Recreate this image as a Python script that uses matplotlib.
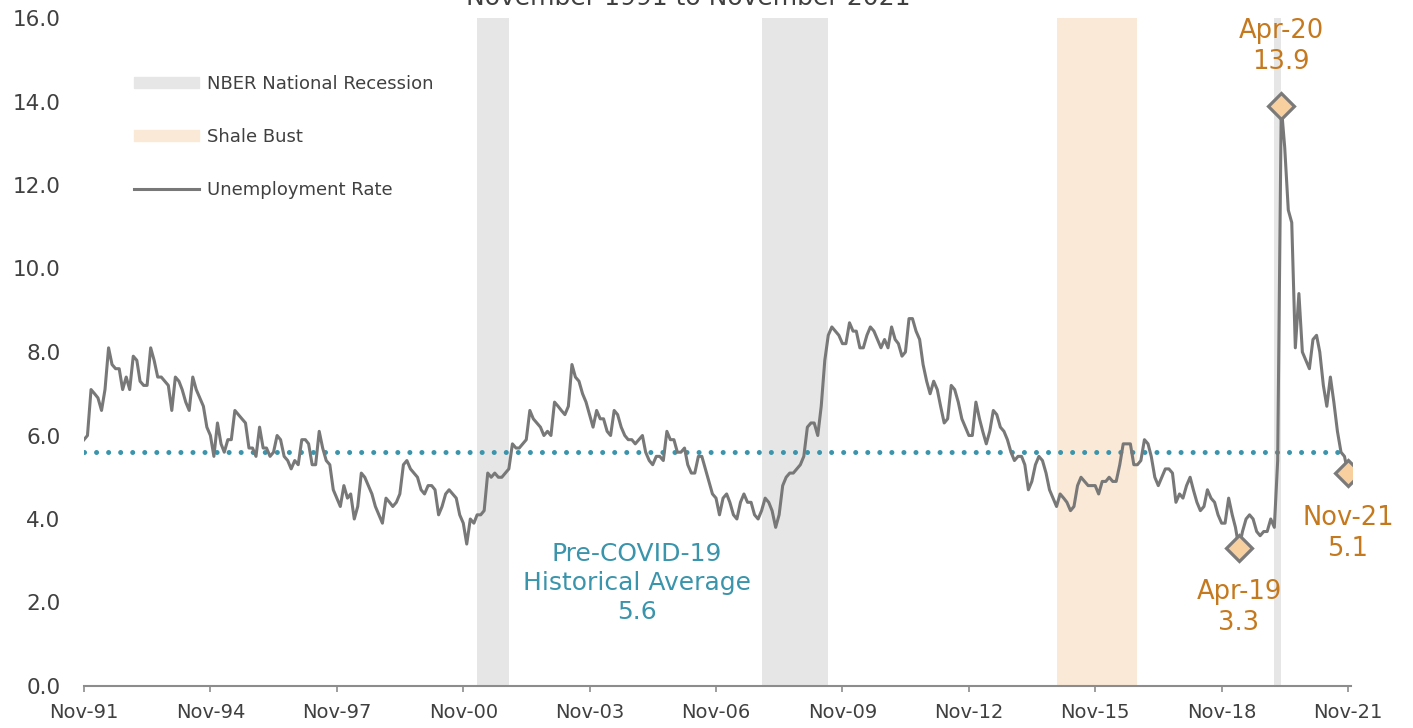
import pandas as pd
import matplotlib
matplotlib.use('Agg')
import matplotlib.pyplot as plt
from matplotlib.patches import Patch
from matplotlib.lines import Line2D

# Tasa de desempleo mensual, nov-1991 a nov-2021
fechas = pd.date_range('1991-11-01', '2021-11-01', freq='MS')
tasa = [
    5.9, 6.0, 7.1, 7.0, 6.9, 6.6, 7.1, 8.1, 7.7, 7.6, 7.6, 7.1,   # nov-91
    7.4, 7.1, 7.9, 7.8, 7.3, 7.2, 7.2, 8.1, 7.8, 7.4, 7.4, 7.3,   # nov-92
    7.2, 6.6, 7.4, 7.3, 7.1, 6.8, 6.6, 7.4, 7.1, 6.9, 6.7, 6.2,   # nov-93
    6.0, 5.5, 6.3, 5.8, 5.6, 5.9, 5.9, 6.6, 6.5, 6.4, 6.3, 5.7,   # nov-94
    5.7, 5.5, 6.2, 5.7, 5.7, 5.5, 5.6, 6.0, 5.9, 5.5, 5.4, 5.2,   # nov-95
    5.4, 5.3, 5.9, 5.9, 5.8, 5.3, 5.3, 6.1, 5.7, 5.4, 5.3, 4.7,   # nov-96
    4.5, 4.3, 4.8, 4.5, 4.6, 4.0, 4.3, 5.1, 5.0, 4.8, 4.6, 4.3,   # nov-97
    4.1, 3.9, 4.5, 4.4, 4.3, 4.4, 4.6, 5.3, 5.4, 5.2, 5.1, 5.0,   # nov-98
    4.7, 4.6, 4.8, 4.8, 4.7, 4.1, 4.3, 4.6, 4.7, 4.6, 4.5, 4.1,   # nov-99
    3.9, 3.4, 4.0, 3.9, 4.1, 4.1, 4.2, 5.1, 5.0, 5.1, 5.0, 5.0,   # nov-00
    5.1, 5.2, 5.8, 5.7, 5.7, 5.8, 5.9, 6.6, 6.4, 6.3, 6.2, 6.0,   # nov-01
    6.1, 6.0, 6.8, 6.7, 6.6, 6.5, 6.7, 7.7, 7.4, 7.3, 7.0, 6.8,   # nov-02
    6.5, 6.2, 6.6, 6.4, 6.4, 6.1, 6.0, 6.6, 6.5, 6.2, 6.0, 5.9,   # nov-03
    5.9, 5.8, 5.9, 6.0, 5.6, 5.4, 5.3, 5.5, 5.5, 5.4, 6.1, 5.9,   # nov-04
    5.9, 5.6, 5.6, 5.7, 5.3, 5.1, 5.1, 5.5, 5.5, 5.2, 4.9, 4.6,   # nov-05
    4.5, 4.1, 4.5, 4.6, 4.4, 4.1, 4.0, 4.4, 4.6, 4.4, 4.4, 4.1,   # nov-06
    4.0, 4.2, 4.5, 4.4, 4.2, 3.8, 4.1, 4.8, 5.0, 5.1, 5.1, 5.2,   # nov-07
    5.3, 5.5, 6.2, 6.3, 6.3, 6.0, 6.7, 7.8, 8.4, 8.6, 8.5, 8.4,   # nov-08
    8.2, 8.2, 8.7, 8.5, 8.5, 8.1, 8.1, 8.4, 8.6, 8.5, 8.3, 8.1,   # nov-09
    8.3, 8.1, 8.6, 8.3, 8.2, 7.9, 8.0, 8.8, 8.8, 8.5, 8.3, 7.7,   # nov-10
    7.3, 7.0, 7.3, 7.1, 6.7, 6.3, 6.4, 7.2, 7.1, 6.8, 6.4, 6.2,   # nov-11
    6.0, 6.0, 6.8, 6.4, 6.1, 5.8, 6.1, 6.6, 6.5, 6.2, 6.1, 5.9,   # nov-12
    5.6, 5.4, 5.5, 5.5, 5.3, 4.7, 4.9, 5.3, 5.5, 5.4, 5.1, 4.7,   # nov-13
    4.5, 4.3, 4.6, 4.5, 4.4, 4.2, 4.3, 4.8, 5.0, 4.9, 4.8, 4.8,   # nov-14
    4.8, 4.6, 4.9, 4.9, 5.0, 4.9, 4.9, 5.3, 5.8, 5.8, 5.8, 5.3,   # nov-15
    5.3, 5.4, 5.9, 5.8, 5.5, 5.0, 4.8, 5.0, 5.2, 5.2, 5.1, 4.4,   # nov-16
    4.6, 4.5, 4.8, 5.0, 4.7, 4.4, 4.2, 4.3, 4.7, 4.5, 4.4, 4.1,   # nov-17
    3.9, 3.9, 4.5, 4.1, 3.8, 3.3, 3.7, 4.0, 4.1, 4.0, 3.7, 3.6,   # nov-18
    3.7, 3.7, 4.0, 3.8, 5.4, 13.9, 12.9, 11.4, 11.1, 8.1, 9.4, 8.0,  # nov-19
    7.8, 7.6, 8.3, 8.4, 8.0, 7.2, 6.7, 7.4, 6.8, 6.1, 5.6, 5.5,   # nov-20
    5.1,                                                          # nov-21
]
promedio = 5.6

# Periodos sombreados
recesiones = [('2001-03-01', '2001-12-01'), ('2007-12-01', '2009-07-01'),
              ('2020-02-01', '2020-04-01')]
shale = ('2014-12-01', '2016-11-01')

# Puntos destacados
destacados = ['2019-04-01', '2020-04-01', '2021-11-01']

serie = pd.Series(tasa, index=fechas)

fig = plt.figure(figsize=(14.13, 7.28), dpi=100)
ax = fig.add_axes([84 / 1413, 42 / 728, 1267.5 / 1413, 668 / 728])

for ini, fin in recesiones:
    ax.axvspan(pd.Timestamp(ini), pd.Timestamp(fin), color='#E6E6E6', lw=0, zorder=0)
ax.axvspan(pd.Timestamp(shale[0]), pd.Timestamp(shale[1]), color='#FAE9D6', lw=0, zorder=0)

ax.plot(serie.index, [promedio] * len(serie), color='#3A94AB', lw=3.6,
        linestyle=(0, (0.01, 2.4)), dash_capstyle='round', zorder=2)
ax.plot(serie.index, serie.values, color='#787878', lw=2.2, zorder=3)

pts = serie[pd.to_datetime(destacados)]
ax.plot(pts.index, pts.values, 'D', ms=13, mfc='#F8CF9F', mec='#7A7A7A', mew=2.3, zorder=4)

naranja = '#C5791F'
for f, v, dy in zip(pts.index, pts.values, [-1.42, 1.42, -1.45]):
    etiqueta = f.strftime('%b-%y') + '\n' + f'{v:.1f}'
    ax.text(f, v + dy, etiqueta, ha='center', va='center', fontsize=18.5,
            color=naranja, linespacing=1.25)

ax.text(pd.Timestamp('2004-12-15'), 2.47, 'Pre-COVID-19\nHistorical Average\n5.6',
        ha='center', va='center', fontsize=18, color='#3A94AB', linespacing=1.25)

# Ejes
ax.set_ylim(0, 16)
ax.set_yticks(range(0, 17, 2))
ax.set_yticklabels([f'{v:.1f}' for v in range(0, 17, 2)])
ax.set_xlim(fechas[0], pd.Timestamp('2021-12-01'))
ticks = pd.date_range('1991-11-01', '2021-11-01', freq='36MS')
ax.set_xticks(ticks)
ax.set_xticklabels([t.strftime('%b-%y') for t in ticks])
for s in ['top', 'right', 'left']:
    ax.spines[s].set_visible(False)
ax.spines['bottom'].set_color('#8C8C8C')
ax.spines['bottom'].set_linewidth(1.5)
ax.tick_params(axis='y', length=0, pad=17, labelsize=15.5, labelcolor='#404040')
ax.tick_params(axis='x', length=4.5, width=1.2, color='#8C8C8C', pad=8,
               labelsize=14, labelcolor='#404040')

handles = [Patch(color='#E6E6E6'), Patch(color='#FAE9D6'),
           Line2D([0], [0], color='#787878', lw=2.2)]
labels = ['NBER National Recession', 'Shale Bust', 'Unemployment Rate']
leg = ax.legend(handles, labels, loc='upper left', bbox_to_anchor=(0.0325, 0.928),
                frameon=False, fontsize=13, handlelength=3.6, handleheight=0.6,
                labelspacing=1.93, handletextpad=0.45, borderpad=0)
for t in leg.get_texts():
    t.set_color('#404040')

fig.text(688 / 1413, 1 - 5 / 728, 'November 1991 to November 2021', ha='center',
         va='baseline', fontsize=18, color='#404040')

fig.savefig('out.png', dpi=100)
